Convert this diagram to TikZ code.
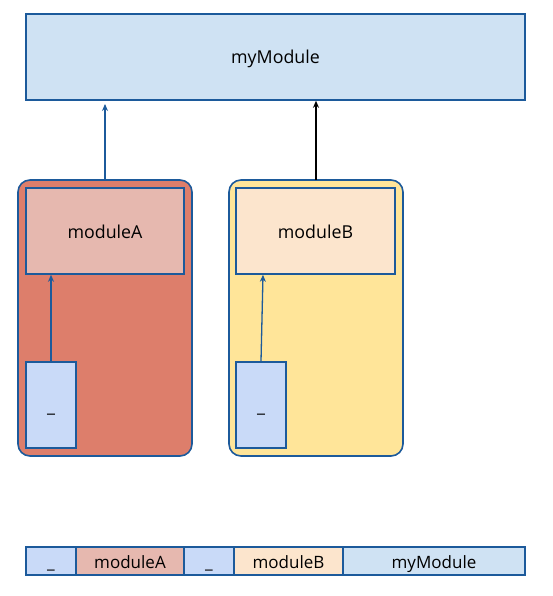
\documentclass[tikz,border=0pt]{standalone}
\usepackage{fontspec}
\setmainfont{Open Sans}
\usetikzlibrary{arrows.meta}
\definecolor{bordc}{RGB}{28,90,155}
\definecolor{contA}{HTML}{DD7E6B}
\definecolor{modA}{HTML}{E6B8AF}
\definecolor{smallc}{HTML}{C9DAF8}
\definecolor{topc}{HTML}{CFE2F3}
\definecolor{contB}{HTML}{FFE599}
\definecolor{modB}{HTML}{FCE5CD}
\tikzset{
  box/.style={draw=bordc, line width=1.6pt, inner sep=0pt, font=\fontsize{17.8}{20}\selectfont, text height=15pt, text depth=1pt},
  legbox/.style={box, font=\fontsize{17}{19}\selectfont, minimum height=28pt},
  cont/.style={draw=bordc, line width=1.6pt, rounded corners=12pt},
  conn/.style={draw=bordc, line width=1.3pt, -{Stealth[length=7pt,width=6pt]}},
  connk/.style={draw=black, line width=1.3pt, -{Stealth[length=7pt,width=6pt]}},
}
\begin{document}
\begin{tikzpicture}[x=1pt,y=-1pt]
\useasboundingbox (0,0) rectangle (553,596);
% top module
\node[box, fill=topc, minimum width=499pt, minimum height=86pt] (top) at (275.5,57) {myModule};
% containers
\draw[cont, fill=contA] (18,180) rectangle (192,456);
\draw[cont, fill=contB] (229,180) rectangle (403,456);
\coordinate (cAtop) at (105,180);
\coordinate (cBtop) at (316,180);
\coordinate (tipA) at (105,104);
% inner modules
\node[box, fill=modA, minimum width=158pt, minimum height=86pt] (modA) at (105,231) {moduleA};
\node[box, fill=modB, minimum width=159pt, minimum height=86pt] (modB) at (315.5,231) {moduleB};
\node[box, fill=smallc, minimum width=50pt, minimum height=86pt] (sA) at (51,405) {\textunderscore};
\node[box, fill=smallc, minimum width=50pt, minimum height=86pt] (sB) at (261,405) {\textunderscore};
% connectors
\draw[conn] (sA.north) -- (sA.north |- modA.south);
\draw[conn] (sB.north) -- ([xshift=2pt]sB.north |- modB.south);
\draw[conn] (cAtop) -- (tipA);
\draw[connk] (cBtop) -- (cBtop |- top.south);
% legend
\node[legbox, fill=smallc, minimum width=50pt] (l1) at (51,561) {\textunderscore};
\node[legbox, fill=modA, minimum width=108pt] (l2) at (130,561) {moduleA};
\node[legbox, fill=smallc, minimum width=50pt] (l3) at (209,561) {\textunderscore};
\node[legbox, fill=modB, minimum width=109pt] (l4) at (288.5,561) {moduleB};
\node[legbox, fill=topc, minimum width=182pt] (l5) at (434,561) {myModule};
\end{tikzpicture}
\end{document}
